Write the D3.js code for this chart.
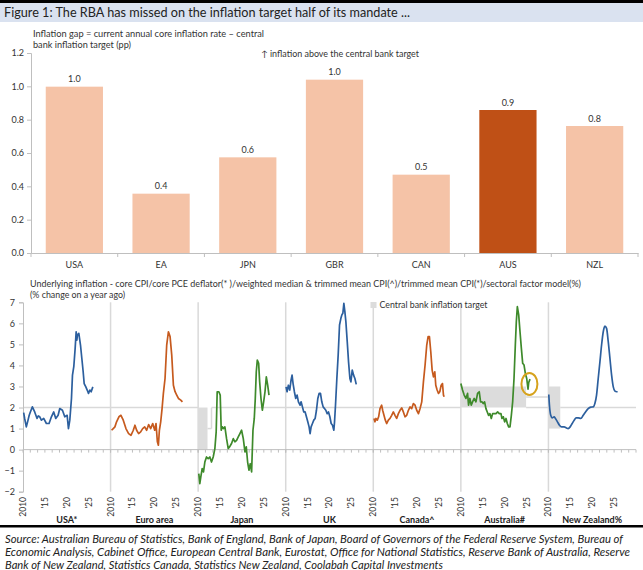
<!DOCTYPE html>
<html>
<head>
<meta charset="utf-8">
<script src="https://cdn.jsdelivr.net/npm/d3@7"></script>
<style>
body { margin: 0; background: #fff; }
text { font-family: Lato, "Open Sans", sans-serif; }
</style>
</head>
<body>
<script>
// --- top chart data
var countries = ["USA", "EA", "JPN", "GBR", "CAN", "AUS", "NZL"]
var gaps = [0.998, 0.356, 0.574, 1.04, 0.47, 0.858, 0.762]
var gapTicks = [0, 0.2, 0.4, 0.6, 0.8, 1.0, 1.2]

// --- bottom chart data: [year, % y/y]
var panelNames = ["USA*", "Euro area", "Japan", "UK", "Canada^", "Australia#", "New Zealand%"]
var yearTicks = [2010, 2015, 2020, 2025]
var yearLabels = ["2010", "'15", "'20", "'25"]
var inflTicks = [-2, -1, 0, 1, 2, 3, 4, 5, 6, 7]

var usa = [[2010.15,1.76],[2010.38,1.48],[2010.76,1.08],[2011.15,1.40],[2011.4,1.62],[2011.68,1.79],[2012.14,2.03],[2012.67,1.79],[2013.21,1.48],[2013.5,1.60],[2013.82,1.56],[2014.2,1.40],[2014.73,1.48],[2015.34,1.24],[2015.95,1.24],[2016.49,1.56],[2017.02,1.79],[2017.48,1.48],[2018.02,1.63],[2018.4,1.95],[2019.01,1.87],[2019.54,1.56],[2020.08,1.63],[2020.38,1.00],[2020.69,1.40],[2021.07,2.43],[2021.3,3.54],[2021.6,3.94],[2021.91,4.81],[2022.14,5.60],[2022.3,5.20],[2022.44,5.45],[2022.75,5.52],[2023.13,4.97],[2023.44,4.33],[2023.74,3.70],[2023.97,3.14],[2024.35,2.98],[2024.66,2.83],[2024.96,2.67],[2025.27,2.83],[2025.57,2.75],[2025.95,2.98]]
var ea = [[2010.23,0.92],[2010.61,1.00],[2010.99,1.08],[2011.37,1.32],[2011.91,1.56],[2012.37,1.63],[2012.9,1.40],[2013.51,1.00],[2014.12,0.76],[2014.66,0.68],[2015.19,0.92],[2015.57,1.16],[2015.95,0.92],[2016.41,0.76],[2016.87,0.84],[2017.33,1.00],[2017.79,1.08],[2018.24,0.92],[2018.7,1.19],[2019.16,1.00],[2019.62,1.24],[2020.08,0.92],[2020.38,1.24],[2020.69,0.37],[2020.92,0.21],[2021.15,0.92],[2021.45,1.32],[2021.76,1.95],[2022.06,2.67],[2022.44,3.38],[2022.82,4.97],[2023.21,5.60],[2023.59,5.37],[2023.97,4.49],[2024.35,3.06],[2024.73,2.75],[2025.11,2.59],[2025.5,2.43],[2026.03,2.35],[2026.41,2.27]]
var japan = [[2010.15,-1.14],[2010.38,-1.62],[2010.61,-1.30],[2010.92,-0.90],[2011.22,-1.06],[2011.53,-0.59],[2011.91,-0.35],[2012.29,-0.43],[2012.67,-0.35],[2013.05,-0.59],[2013.44,-0.35],[2013.82,0.05],[2014.12,0.84],[2014.35,2.75],[2014.73,2.75],[2015.04,2.59],[2015.27,0.92],[2015.5,1.08],[2015.8,1.00],[2016.11,1.08],[2016.49,0.52],[2016.87,0.05],[2017.18,0.13],[2017.63,0.29],[2018.02,0.52],[2018.4,0.37],[2018.78,0.44],[2019.16,0.60],[2019.54,0.76],[2019.92,0.92],[2020.31,0.52],[2020.69,-0.11],[2020.99,0.13],[2021.3,-0.59],[2021.6,-0.98],[2021.91,-0.67],[2022.21,-1.06],[2022.52,0.92],[2022.82,1.48],[2023.05,2.43],[2023.28,3.70],[2023.51,4.25],[2023.82,4.10],[2024.05,3.22],[2024.35,2.43],[2024.66,1.87],[2024.96,2.27],[2025.27,2.75],[2025.57,3.46],[2025.88,3.06],[2026.18,2.59]]
var uk = [[2010.08,2.98],[2010.31,2.75],[2010.61,3.06],[2010.92,2.83],[2011.22,3.30],[2011.45,3.54],[2011.68,3.14],[2011.98,2.75],[2012.29,2.43],[2012.6,2.59],[2012.9,2.27],[2013.28,2.11],[2013.51,2.27],[2013.82,2.03],[2014.12,1.79],[2014.43,1.79],[2014.73,1.56],[2015.04,1.32],[2015.34,1.08],[2015.57,0.76],[2015.8,1.08],[2016.11,1.24],[2016.41,1.40],[2016.72,1.48],[2017.02,1.87],[2017.33,2.43],[2017.63,2.67],[2017.94,2.67],[2018.24,2.27],[2018.55,2.03],[2018.85,1.95],[2019.16,1.87],[2019.47,1.71],[2019.77,1.79],[2020.08,1.56],[2020.38,1.24],[2020.69,1.16],[2020.99,0.92],[2021.15,1.32],[2021.37,2.11],[2021.68,3.38],[2021.98,4.49],[2022.29,5.92],[2022.6,6.24],[2022.82,6.40],[2023.05,6.48],[2023.28,6.95],[2023.51,6.56],[2023.74,6.08],[2024.05,5.13],[2024.35,4.17],[2024.66,3.38],[2024.89,3.22],[2025.19,3.78],[2025.5,3.54],[2025.8,3.38],[2026.11,3.10]]
var canada = [[2010.15,1.48],[2010.38,1.32],[2010.61,1.48],[2010.92,1.40],[2011.22,1.56],[2011.53,1.95],[2011.91,2.11],[2012.14,1.87],[2012.44,1.63],[2012.75,1.40],[2013.05,1.24],[2013.44,1.40],[2013.82,1.48],[2014.2,1.63],[2014.58,1.79],[2014.96,1.63],[2015.34,1.48],[2015.73,1.71],[2016.11,1.87],[2016.49,1.98],[2016.87,1.79],[2017.25,1.56],[2017.63,1.63],[2018.02,1.87],[2018.4,2.03],[2018.78,1.95],[2019.16,2.19],[2019.54,2.11],[2019.92,1.87],[2020.31,1.71],[2020.69,1.95],[2021.07,2.27],[2021.45,3.22],[2021.83,4.02],[2022.21,4.97],[2022.52,5.37],[2022.82,5.37],[2023.13,4.65],[2023.44,3.78],[2023.74,3.46],[2024.05,3.70],[2024.27,3.06],[2024.58,2.83],[2024.89,2.67],[2025.19,2.75],[2025.5,3.06],[2025.8,3.14],[2026.03,2.59],[2026.18,2.51]]
var australia = [[2010.0,3.14],[2010.38,2.83],[2010.76,2.59],[2011.15,2.43],[2011.53,2.67],[2011.76,2.11],[2012.06,2.43],[2012.37,2.11],[2012.67,2.27],[2013.05,2.43],[2013.44,2.27],[2013.82,2.67],[2014.2,2.75],[2014.5,2.27],[2014.81,2.27],[2015.11,2.19],[2015.42,2.27],[2015.73,1.95],[2016.03,1.79],[2016.34,1.63],[2016.64,1.71],[2016.95,1.48],[2017.25,1.71],[2017.63,1.71],[2018.02,1.71],[2018.4,1.79],[2018.78,1.71],[2019.16,1.71],[2019.39,1.48],[2019.69,1.56],[2020.0,1.32],[2020.31,1.48],[2020.61,1.24],[2020.92,1.08],[2021.22,1.08],[2021.53,1.63],[2021.83,2.27],[2022.14,3.38],[2022.44,4.97],[2022.67,6.08],[2022.9,6.79],[2023.21,6.40],[2023.51,5.60],[2023.82,4.81],[2024.12,4.10],[2024.43,4.02],[2024.73,3.62],[2025.04,3.38],[2025.34,2.87],[2025.5,3.19],[2025.8,3.35]]
var nz = [[2010.08,2.62],[2010.23,2.11],[2010.53,1.63],[2010.84,1.51],[2011.3,1.56],[2011.6,1.48],[2012.06,1.32],[2012.52,1.16],[2012.98,1.08],[2013.59,1.08],[2014.12,1.03],[2014.5,1.00],[2014.96,1.08],[2015.42,1.24],[2015.88,1.40],[2016.34,1.51],[2016.79,1.51],[2017.4,1.48],[2017.94,1.63],[2018.47,1.79],[2019.08,1.95],[2019.69,2.02],[2020.23,2.03],[2020.61,2.19],[2020.99,2.59],[2021.37,3.38],[2021.76,4.17],[2022.14,4.97],[2022.52,5.60],[2022.9,5.87],[2023.28,5.76],[2023.66,5.13],[2024.05,4.33],[2024.43,3.54],[2024.81,2.98],[2025.19,2.78],[2025.57,2.75],[2025.8,2.75]]

// central bank targets: [from, to, low, high]
var usaTarget = [[2010, 2030, 2, 2]]
var eaTarget = [[2010, 2030, 2, 2]]
var japanTarget = [[2010, 2012.14, 0, 2], [2012.14, 2013.05, 1, 1], [2013.05, 2030, 2, 2]]
var ukTarget = [[2010, 2030, 2, 2]]
var canadaTarget = [[2010, 2030, 2, 2]]
var australiaTarget = [[2010, 2024.9, 2, 3], [2024.9, 2030, 2.5, 2.5], [2024.9, 2030, 2, 2]]
var nzTarget = [[2010, 2012.7, 1, 3], [2012.7, 2030, 2, 2]]
var latestAus = [2025.66, 3.12]

var seriesList = [usa, ea, japan, uk, canada, australia, nz]
var targetList = [usaTarget, eaTarget, japanTarget, ukTarget, canadaTarget, australiaTarget, nzTarget]
var lineColours = ["#2C5F9E", "#C65A1E", "#3E8A2B", "#2C5F9E", "#C65A1E", "#3E8A2B", "#2C5F9E"]

var svg = d3.select("body").append("svg")
  .attr("width", 643)
  .attr("height", 570)

// title band
svg.append("rect").attr("x", 0).attr("y", 0).attr("width", 643).attr("height", 3).style("fill", "#000")
svg.append("rect").attr("x", 0).attr("y", 3).attr("width", 643).attr("height", 19).style("fill", "#DAE2F0")
svg.append("text").attr("x", 4).attr("y", 17).attr("textLength", 406).attr("lengthAdjust", "spacingAndGlyphs")
  .style("font-size", "13px").style("fill", "#222")
  .text("Figure 1: The RBA has missed on the inflation target half of its mandate ...")

// ---------- top: inflation gap bars
var xBar = d3.scaleBand().domain(countries).range([31, 638]).paddingInner(0.34).paddingOuter(0.17)
var yBar = d3.scaleLinear().domain([0, 1.2]).range([253, 53])

svg.append("text").attr("x", 33).attr("y", 36.5).attr("textLength", 231).attr("lengthAdjust", "spacingAndGlyphs")
  .style("font-size", "8.5px").style("fill", "#333")
  .text("Inflation gap = current annual core inflation rate \u2013 central")
svg.append("text").attr("x", 33).attr("y", 47.5).attr("textLength", 98).attr("lengthAdjust", "spacingAndGlyphs")
  .style("font-size", "8.5px").style("fill", "#333")
  .text("bank inflation target (pp)")
svg.append("text").attr("x", 261).attr("y", 57).attr("textLength", 158).attr("lengthAdjust", "spacingAndGlyphs")
  .style("font-size", "8.5px").style("fill", "#333")
  .text("\u2191 inflation above the central bank target")

var gapData = countries.map(function(c, i) { return {country: c, value: gaps[i]} })

svg.append("g").selectAll("rect")
  .data(gapData)
  .enter()
  .append("rect")
  .attr("x", function(d) { return xBar(d.country) })
  .attr("width", xBar.bandwidth())
  .attr("y", function(d) { return yBar(d.value) })
  .attr("height", function(d) { return yBar(0) - yBar(d.value) })
  .style("fill", function(d) { return d.country === "AUS" ? "#BF5016" : "#F5C3A7" })

svg.append("g").selectAll("text")
  .data(gapData)
  .enter()
  .append("text")
  .attr("x", function(d) { return xBar(d.country) + xBar.bandwidth() / 2 })
  .attr("y", function(d) { return yBar(d.value) - 4.5 })
  .attr("text-anchor", "middle")
  .style("font-size", "9px").style("fill", "#333")
  .text(function(d) { return d3.format(".1f")(d.value) })

var yAxisTop = svg.append("g").attr("transform", "translate(31,0)")
  .call(d3.axisLeft(yBar).tickValues(gapTicks).tickFormat(d3.format(".1f")).tickSize(4).tickPadding(3))
var xAxisTop = svg.append("g").attr("transform", "translate(0,253)")
  .call(d3.axisBottom(xBar).tickSize(0).tickPadding(9))
xAxisTop.selectAll(".tick").data(countries)
svg.append("g").selectAll("line")
  .data(d3.range(countries.length + 1))
  .enter()
  .append("line")
  .attr("x1", function(i) { return xBar.range()[0] + i * xBar.step() })
  .attr("x2", function(i) { return xBar.range()[0] + i * xBar.step() })
  .attr("y1", yBar(0)).attr("y2", yBar(0) + 4)
  .style("stroke", "#bfbfbf")

;[yAxisTop, xAxisTop].forEach(function(a) {
  a.select(".domain").style("stroke", "#bfbfbf")
  a.selectAll(".tick line").style("stroke", "#bfbfbf")
  a.selectAll("text").style("font-size", "9px").style("fill", "#333").style("font-family", "Lato, sans-serif")
})

// ---------- bottom: underlying inflation small multiples
var panelBand = d3.scaleBand().domain(panelNames).range([23, 636])
var yLow = d3.scaleLinear().domain([-2, 7]).range([491.7, 302.3])
function panelX(i) {
  var p0 = panelBand(panelNames[i])
  return d3.scaleLinear().domain([2010, 2030]).range([p0, p0 + panelBand.bandwidth()])
}

svg.append("text").attr("x", 30).attr("y", 286.5).attr("textLength", 551).attr("lengthAdjust", "spacingAndGlyphs")
  .style("font-size", "8.5px").style("fill", "#333")
  .text("Underlying inflation -  core CPI/core PCE deflator(* )/weighted median & trimmed mean CPI(^)/trimmed mean CPI(*)/sectoral factor model(%)")
svg.append("text").attr("x", 30).attr("y", 297.5).attr("textLength", 95).attr("lengthAdjust", "spacingAndGlyphs")
  .style("font-size", "8.5px").style("fill", "#333")
  .text("(% change on a year ago)")

// panel separators
svg.append("g").selectAll("line")
  .data(panelNames.slice(1))
  .enter()
  .append("line")
  .attr("x1", function(d) { return panelBand(d) })
  .attr("x2", function(d) { return panelBand(d) })
  .attr("y1", yLow(7)).attr("y2", yLow(-2))
  .style("stroke", "#d9d9d9").style("stroke-width", 1.5)

// targets
panelNames.forEach(function(name, i) {
  var xs = panelX(i)
  var segs = targetList[i]
  var g = svg.append("g")
  g.selectAll("rect")
    .data(segs.filter(function(s) { return s[3] > s[2] }))
    .enter()
    .append("rect")
    .attr("x", function(s) { return xs(s[0]) })
    .attr("width", function(s) { return xs(s[1]) - xs(s[0]) })
    .attr("y", function(s) { return yLow(s[3]) })
    .attr("height", function(s) { return yLow(s[2]) - yLow(s[3]) })
    .style("fill", "#DCDCDC")
  g.selectAll("line.t")
    .data(segs.filter(function(s) { return s[3] === s[2] }))
    .enter()
    .append("line")
    .attr("x1", function(s) { return xs(s[0]) })
    .attr("x2", function(s) { return xs(s[1]) })
    .attr("y1", function(s) { return yLow(s[2]) })
    .attr("y2", function(s) { return yLow(s[2]) })
    .style("stroke", "#d9d9d9").style("stroke-width", 1.5)
  // step connectors between consecutive point targets
  for (var k = 1; k < segs.length; k++) {
    var a = segs[k - 1], b = segs[k]
    if (a[2] === a[3] && b[2] === b[3] && a[1] === b[0] && a[2] !== b[2]) {
      g.append("line")
        .attr("x1", xs(b[0])).attr("x2", xs(b[0]))
        .attr("y1", yLow(a[2])).attr("y2", yLow(b[2]))
        .style("stroke", "#d9d9d9").style("stroke-width", 1.5)
    }
  }
})

// legend
svg.append("rect").attr("x", 370.5).attr("y", 302).attr("width", 6).attr("height", 6).style("fill", "#DCDCDC")
svg.append("text").attr("x", 379.5).attr("y", 307.7).attr("textLength", 108).attr("lengthAdjust", "spacingAndGlyphs")
  .style("font-size", "8.5px").style("fill", "#333")
  .text("Central bank inflation target")

// y axis
var yAxisLow = svg.append("g").attr("transform", "translate(23,0)")
  .call(d3.axisLeft(yLow).tickValues(inflTicks).tickFormat(d3.format("d")).tickSize(4).tickPadding(4))
yAxisLow.select(".domain").style("stroke", "#bfbfbf")
yAxisLow.selectAll(".tick line").style("stroke", "#bfbfbf")
yAxisLow.selectAll("text").style("font-size", "9px").style("fill", "#333").style("font-family", "Lato, sans-serif")

// zero line with ticks every 20 months
svg.append("line").attr("x1", 23).attr("x2", 636).attr("y1", yLow(0)).attr("y2", yLow(0))
  .style("stroke", "#bfbfbf")
panelNames.forEach(function(name, i) {
  var xs = panelX(i)
  svg.append("g").selectAll("line")
    .data(d3.range(13).map(function(k) { return 2010 + k * 20 / 12 }))
    .enter()
    .append("line")
    .attr("x1", function(d) { return xs(d) }).attr("x2", function(d) { return xs(d) })
    .attr("y1", yLow(0)).attr("y2", yLow(0) + 3)
    .style("stroke", "#bfbfbf")

  svg.append("g").selectAll("text")
    .data(yearTicks)
    .enter()
    .append("text")
    .attr("transform", function(d) { return "translate(" + xs(d) + ",497) rotate(-90)" })
    .attr("text-anchor", "end")
    .attr("dy", "0.35em")
    .style("font-size", "8.5px").style("fill", "#333")
    .text(function(d, j) { return yearLabels[j] })

  svg.append("text")
    .attr("x", panelBand(name) + panelBand.bandwidth() / 2)
    .attr("y", 522.5)
    .attr("text-anchor", "middle")
    .style("font-size", "9px").style("font-weight", "bold").style("fill", "#222")
    .text(name)

  svg.append("path")
    .datum(seriesList[i])
    .attr("d", d3.line()
      .x(function(d) { return xs(d[0]) })
      .y(function(d) { return yLow(d[1]) })
      .curve(i === 6 ? d3.curveMonotoneX : d3.curveLinear))
    .style("fill", "none")
    .style("stroke", lineColours[i])
    .style("stroke-width", 1.7)
    .style("stroke-linejoin", "round")
})

// highlight latest Australian print
var xAus = panelX(5)
svg.append("ellipse")
  .attr("cx", xAus(latestAus[0])).attr("cy", yLow(latestAus[1]))
  .attr("rx", 8).attr("ry", 11)
  .style("fill", "none").style("stroke", "#D6A21C").style("stroke-width", 2)

// bottom rule and source
svg.append("rect").attr("x", 0).attr("y", 525).attr("width", 643).attr("height", 2.5).style("fill", "#000")
var sourceLines = [
  "Source: Australian Bureau of Statistics, Bank of England, Bank of Japan, Board of Governors of the Federal Reserve System, Bureau of",
  "Economic Analysis, Cabinet Office, European Central Bank, Eurostat, Office for National Statistics, Reserve Bank of Australia, Reserve",
  "Bank of New Zealand, Statistics Canada, Statistics New Zealand, Coolabah Capital Investments"
]
var sourceWidths = [618, 625, 438]
svg.append("g").selectAll("text")
  .data(sourceLines)
  .enter()
  .append("text")
  .attr("x", 5)
  .attr("y", function(d, i) { return 543 + i * 13 })
  .attr("textLength", function(d, i) { return sourceWidths[i] })
  .attr("lengthAdjust", "spacingAndGlyphs")
  .style("font-size", "10.5px").style("font-style", "italic").style("fill", "#222")
  .text(function(d) { return d })
</script>
</body>
</html>
